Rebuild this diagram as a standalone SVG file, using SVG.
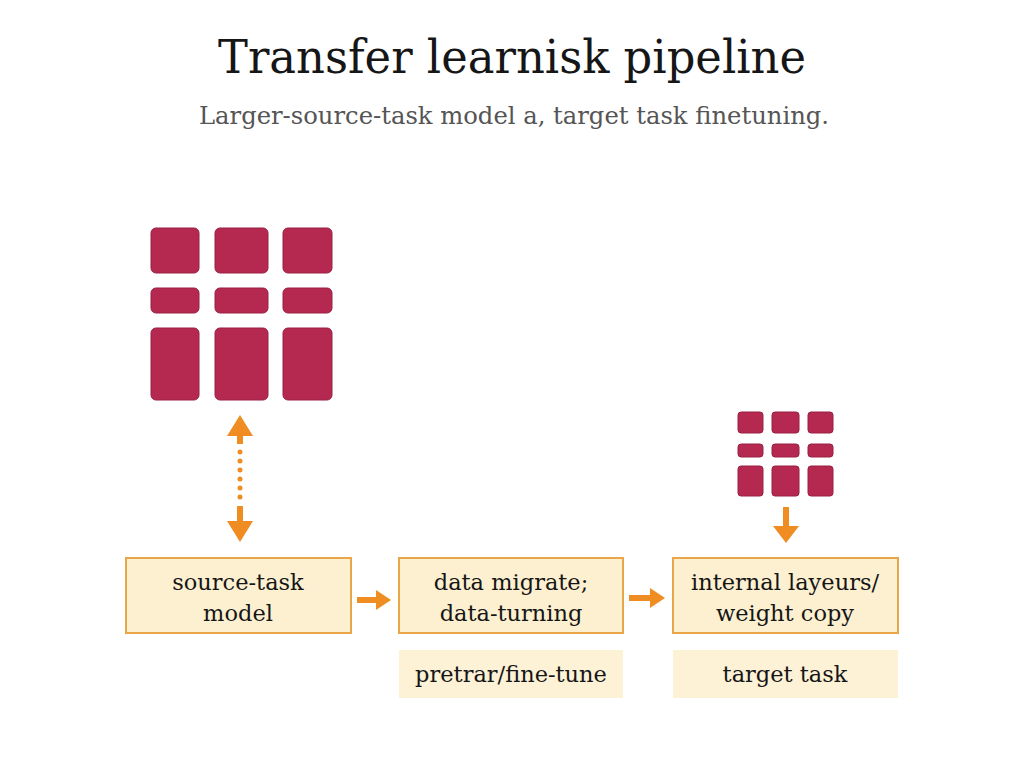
<svg xmlns="http://www.w3.org/2000/svg" width="1024" height="768" viewBox="0 0 1024 768">
<defs>
<style>
.blk{fill:#b5284f;stroke:#9a2044;stroke-width:1}
.box{fill:#fdf0d0;stroke:#e9a649;stroke-width:2}
.sub{fill:#fdf2d6;stroke:none}
.t{font-family:"DejaVu Serif","Liberation Serif",serif;fill:#161616;text-anchor:middle}
.lbl{font-size:22.5px}
.arr{stroke:#ef8c22;stroke-width:6;fill:none}
.dot{stroke:#ef8c22;stroke-width:5;fill:none;stroke-linecap:round;stroke-dasharray:0 9}
.head{fill:#ef8c22}
</style>
</defs>
<rect width="1024" height="768" fill="#ffffff"/>
<text class="t" x="512" y="73" font-size="47" textLength="588" lengthAdjust="spacingAndGlyphs">Transfer learnisk pipeline</text>
<text class="t" x="514" y="124" font-size="24" style="fill:#555555" textLength="630" lengthAdjust="spacingAndGlyphs">Larger-source-task model a, target task finetuning.</text>

<g id="source-grid">
<rect class="blk" x="151" y="228" width="48" height="45" rx="5"/>
<rect class="blk" x="215" y="228" width="53" height="45" rx="5"/>
<rect class="blk" x="283" y="228" width="49" height="45" rx="5"/>
<rect class="blk" x="151" y="288" width="48" height="25" rx="5"/>
<rect class="blk" x="215" y="288" width="53" height="25" rx="5"/>
<rect class="blk" x="283" y="288" width="49" height="25" rx="5"/>
<rect class="blk" x="151" y="328" width="48" height="72" rx="5"/>
<rect class="blk" x="215" y="328" width="53" height="72" rx="5"/>
<rect class="blk" x="283" y="328" width="49" height="72" rx="5"/>
</g>

<g id="target-grid">
<rect class="blk" x="738" y="412" width="25" height="21" rx="3"/>
<rect class="blk" x="772" y="412" width="27" height="21" rx="3"/>
<rect class="blk" x="808" y="412" width="25" height="21" rx="3"/>
<rect class="blk" x="738" y="444" width="25" height="13" rx="3"/>
<rect class="blk" x="772" y="444" width="27" height="13" rx="3"/>
<rect class="blk" x="808" y="444" width="25" height="13" rx="3"/>
<rect class="blk" x="738" y="466" width="25" height="30" rx="3"/>
<rect class="blk" x="772" y="466" width="27" height="30" rx="3"/>
<rect class="blk" x="808" y="466" width="25" height="30" rx="3"/>
</g>

<g id="source-model">
<rect class="box" x="126" y="558" width="225" height="75"/>
<text class="t lbl" x="238" y="590">source-task</text>
<text class="t lbl" x="238" y="621">model</text>
</g>

<g id="data-migrate">
<rect class="box" x="399" y="558" width="224" height="75"/>
<text class="t lbl" x="511" y="590">data migrate;</text>
<text class="t lbl" x="511" y="621">data-turning</text>
</g>

<g id="weight-copy">
<rect class="box" x="673" y="558" width="225" height="75"/>
<text class="t lbl" x="785" y="590">internal layeurs/</text>
<text class="t lbl" x="785" y="621">weight copy</text>
</g>

<g id="pretrain-label">
<rect class="sub" x="399" y="650" width="224" height="48"/>
<text class="t lbl" x="511" y="682">pretrar/fine-tune</text>
</g>

<g id="target-task">
<rect class="sub" x="673" y="650" width="225" height="48"/>
<text class="t lbl" x="785" y="682">target task</text>
</g>

<g id="connectors">
<line class="arr" x1="240" y1="432" x2="240" y2="444"/>
<line class="dot" x1="240" y1="452" x2="240" y2="500"/>
<line class="arr" x1="240" y1="506" x2="240" y2="524"/>
<polygon class="head" points="240,415 227,436 253,436"/>
<polygon class="head" points="240,542 227,521 253,521"/>
<line class="arr" x1="357" y1="600" x2="378" y2="600"/>
<polygon class="head" points="391,600 376,590 376,610"/>
<line class="arr" x1="629" y1="598" x2="652" y2="598"/>
<polygon class="head" points="665,598 650,588 650,608"/>
<line class="arr" x1="786" y1="507" x2="786" y2="528"/>
<polygon class="head" points="786,543 773,526 799,526"/>
</g>
</svg>
